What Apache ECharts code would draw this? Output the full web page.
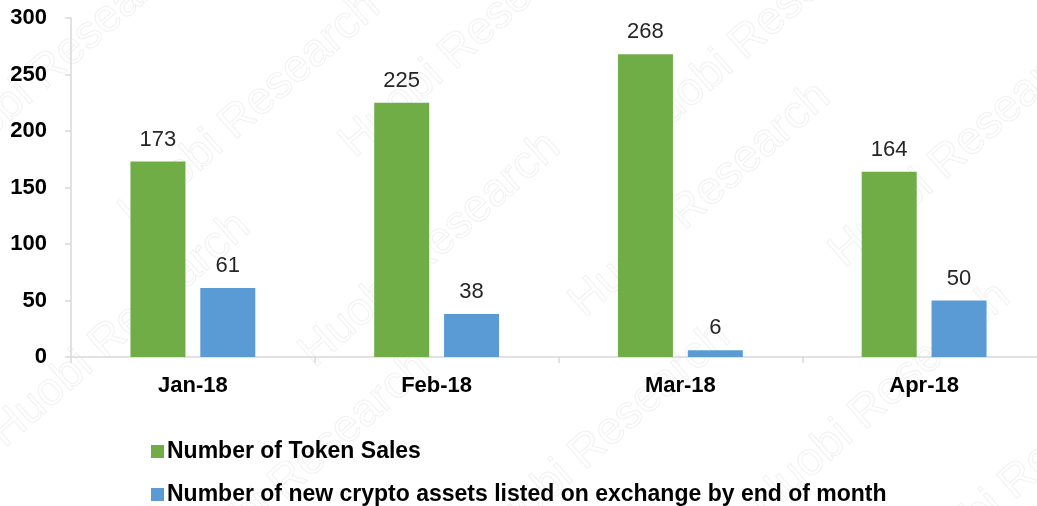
<!DOCTYPE html>
<html><head><meta charset="utf-8">
<script src="https://cdn.jsdelivr.net/npm/echarts@6/dist/echarts.min.js"></script>
<style>html,body{margin:0;padding:0;background:#fff}#c{width:1037px;height:506px}</style>
</head><body><div id="c"></div>
<script>
const categories = ['Jan-18', 'Feb-18', 'Mar-18', 'Apr-18'];
const tokenSales = [173, 225, 268, 164];
const newListed = [61, 38, 6, 50];
const seriesNames = ['Number of Token Sales', 'Number of new crypto assets listed on exchange by end of month'];

const chart = echarts.init(document.getElementById('c'));
const wmPos = [[60,60],[250,110],[470,40],[760,30],[120,330],[430,250],[700,200],[960,150],[300,470],[600,440],[880,400],[1030,470]];
const graphics = wmPos.map(p => ({
  type: 'text', x: p[0], y: p[1], rotation: Math.PI * 0.23, z: -10, silent: true,
  style: { text: 'Huobi Research', font: '46px "Liberation Sans", Arial', fill: 'rgba(0,0,0,0)', stroke: '#f1f1f1', lineWidth: 1, align: 'center', verticalAlign: 'middle' }
}));
const legendText = { fontSize: 23, fontWeight: 'bold', color: '#000', padding: [0, 0, 0, -2] };
chart.setOption({
  animation: false,
  textStyle: { fontFamily: '"Liberation Sans", Arial, sans-serif' },
  graphic: graphics,
  grid: { left: 71, top: 18, width: 975, height: 339, containLabel: false, outerBoundsMode: 'none' },
  legend: [
    { left: 146, top: 435, itemWidth: 13, itemHeight: 13, icon: 'rect', textStyle: legendText, data: [seriesNames[0]] },
    { left: 146, top: 478, itemWidth: 13, itemHeight: 13, icon: 'rect', textStyle: legendText, data: [seriesNames[1]] }
  ],
  xAxis: {
    type: 'category', data: categories,
    axisLine: { lineStyle: { color: '#d9d9d9', width: 1.5 } },
    axisTick: { show: true, length: 6, lineStyle: { color: '#d9d9d9', width: 1.5 } },
    axisLabel: { fontSize: 22, fontWeight: 'bold', color: '#000', margin: 18 }
  },
  yAxis: {
    type: 'value', min: 0, max: 300, interval: 50,
    axisLine: { show: true, lineStyle: { color: '#d9d9d9', width: 1.5 } },
    axisTick: { show: true, length: 6, lineStyle: { color: '#d9d9d9', width: 1.5 } },
    splitLine: { show: false },
    axisLabel: { fontSize: 22, fontWeight: 'bold', color: '#000', margin: 24 }
  },
  series: [
    { name: seriesNames[0], type: 'bar', data: tokenSales, barWidth: 55, barGap: '27%',
      itemStyle: { color: '#70AD47' },
      label: { show: true, position: 'top', distance: 11, fontSize: 22, color: '#262626' } },
    { name: seriesNames[1], type: 'bar', data: newListed, barWidth: 55, barGap: '27%',
      itemStyle: { color: '#5B9BD5' },
      label: { show: true, position: 'top', distance: 11, fontSize: 22, color: '#262626' } }
  ]
});
</script></body></html>
